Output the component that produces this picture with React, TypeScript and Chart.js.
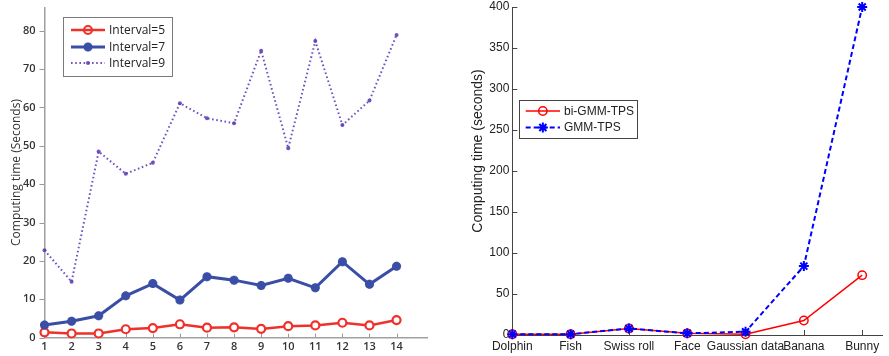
import React, { useEffect, useRef } from 'react';
import { Chart, registerables } from 'chart.js';

Chart.register(...registerables);

// ---------- Left chart data ----------
const intervals = [1, 2, 3, 4, 5, 6, 7, 8, 9, 10, 11, 12, 13, 14];
const interval5 = [1.4, 1.1, 1.1, 2.2, 2.5, 3.5, 2.6, 2.7, 2.3, 3.0, 3.2, 3.9, 3.2, 4.6];
const interval7 = [3.3, 4.3, 5.7, 10.9, 14.1, 9.8, 15.9, 15.0, 13.6, 15.5, 13.0, 19.8, 13.9, 18.6];
const interval9 = [22.8, 14.6, 48.5, 42.7, 45.6, 61.1, 57.2, 55.9, 74.8, 49.4, 77.3, 55.4, 61.8, 78.9];
const leftYTicks = [0, 10, 20, 30, 40, 50, 60, 70, 80];

// ---------- Right chart data ----------
const shapes = ['Dolphin', 'Fish', 'Swiss roll', 'Face', 'Gaussian data', 'Banana', 'Bunny'];
const biGmmTps = [1, 1, 8, 2, 1, 17.7, 73];
const gmmTps = [1, 1, 8, 2, 4, 84, 400];
const rightYTicks = [0, 50, 100, 150, 200, 250, 300, 350, 400];

function drawMarker(ctx: CanvasRenderingContext2D, style: string, x: number, y: number, r: number, color: string, lw: number) {
  ctx.save();
  ctx.strokeStyle = color;
  ctx.fillStyle = color;
  ctx.lineWidth = lw;
  ctx.setLineDash([]);
  ctx.beginPath();
  if (style === 'circle') {
    ctx.arc(x, y, r, 0, Math.PI * 2);
    ctx.fillStyle = 'rgba(255,255,255,0)';
    ctx.stroke();
  } else if (style === 'dot') {
    ctx.arc(x, y, r, 0, Math.PI * 2);
    ctx.fill();
  } else if (style === 'star') {
    for (let i = 0; i < 4; i++) {
      const a = (i * Math.PI) / 4;
      ctx.moveTo(x - Math.cos(a) * r, y - Math.sin(a) * r);
      ctx.lineTo(x + Math.cos(a) * r, y + Math.sin(a) * r);
    }
    ctx.stroke();
  }
  ctx.restore();
}

const tickPlugin = {
  id: 'tickMarks',
  beforeDatasetsDraw(chart: any, _args: any, opts: any) {
    const ctx = chart.ctx;
    const xs = chart.scales.x;
    const ys = chart.scales.y;
    ctx.save();
    ctx.strokeStyle = opts.color;
    ctx.lineWidth = opts.width;
    xs.ticks.forEach((t: any) => {
      const px = Math.round(xs.getPixelForValue(t.value)) + 0.5;
      ctx.beginPath();
      ctx.moveTo(px, xs.top);
      ctx.lineTo(px, xs.top + opts.xLen);
      ctx.stroke();
    });
    ys.ticks.forEach((t: any) => {
      const py = Math.round(ys.getPixelForValue(t.value)) + 0.5;
      ctx.beginPath();
      ctx.moveTo(ys.right, py);
      ctx.lineTo(ys.right + opts.yLen, py);
      ctx.stroke();
    });
    ctx.restore();
  },
};

const legendPlugin = {
  id: 'boxLegend',
  afterDraw(chart: any, _args: any, opts: any) {
    const ctx = chart.ctx;
    const b = opts.box;
    ctx.save();
    ctx.fillStyle = '#ffffff';
    ctx.fillRect(b.x, b.y, b.w, b.h);
    ctx.strokeStyle = opts.borderColor;
    ctx.lineWidth = 1;
    ctx.strokeRect(b.x + 0.5, b.y + 0.5, b.w, b.h);
    opts.items.forEach((it: any, i: number) => {
      const y = opts.rows[i];
      ctx.save();
      ctx.strokeStyle = it.color;
      ctx.lineWidth = it.lineWidth;
      ctx.setLineDash(it.dash || []);
      ctx.beginPath();
      ctx.moveTo(opts.lineX0, y);
      ctx.lineTo(opts.lineX1, y);
      ctx.stroke();
      ctx.restore();
      drawMarker(ctx, it.marker, (opts.lineX0 + opts.lineX1) / 2, y, it.radius, it.color, it.markerWidth);
      ctx.fillStyle = opts.textColor;
      ctx.font = opts.font;
      ctx.textBaseline = 'middle';
      ctx.textAlign = 'left';
      ctx.fillText(it.label, opts.textX, y + 0.5);
    });
    ctx.restore();
  },
};

const titlePlugin = {
  id: 'yTitle',
  afterDraw(chart: any, _args: any, opts: any) {
    const ctx = chart.ctx;
    ctx.save();
    ctx.translate(opts.x, opts.y);
    ctx.rotate(-Math.PI / 2);
    ctx.fillStyle = opts.color;
    ctx.font = opts.font;
    ctx.textAlign = 'center';
    ctx.textBaseline = 'middle';
    ctx.fillText(opts.text, 0, 0);
    ctx.restore();
  },
};

function zeroPad(scale: any) {
  scale.paddingTop = 0;
  scale.paddingBottom = 0;
  scale.paddingLeft = 0;
  scale.paddingRight = 0;
}

function LeftChart() {
  const ref = useRef<HTMLCanvasElement>(null);
  useEffect(() => {
    const tickFont = { family: '"Open Sans"', size: 11, weight: 600 as any };
    const chart = new Chart(ref.current as HTMLCanvasElement, {
      type: 'line',
      data: {
        datasets: [
          {
            label: 'Interval=9',
            data: intervals.map((x, i) => ({ x, y: interval9[i] })),
            borderColor: 'rgba(98,64,184,0.9)',
            backgroundColor: 'rgba(98,64,184,0.9)',
            borderWidth: 2,
            borderDash: [1.6, 2.6],
            pointStyle: 'circle',
            pointRadius: 2,
            pointBorderWidth: 0,
            tension: 0,
            clip: false as any,
          },
          {
            label: 'Interval=7',
            data: intervals.map((x, i) => ({ x, y: interval7[i] })),
            borderColor: '#3b4ea6',
            backgroundColor: '#3b4ea6',
            borderWidth: 3,
            pointStyle: 'star',
            pointRadius: 4.5,
            pointBorderWidth: 3,
            tension: 0,
            clip: false as any,
          },
          {
            label: 'Interval=5',
            data: intervals.map((x, i) => ({ x, y: interval5[i] })),
            borderColor: '#f0302a',
            backgroundColor: '#ffffff',
            borderWidth: 2.5,
            pointStyle: 'circle',
            pointRadius: 4,
            pointBorderWidth: 2.2,
            tension: 0,
            clip: false as any,
          },
        ],
      },
      options: {
        animation: false,
        responsive: false,
        maintainAspectRatio: false,
        layout: { padding: { left: 0, right: 12.3, top: 7.7, bottom: 0 } },
        plugins: {
          legend: { display: false },
          tooltip: { enabled: false },
          tickMarks: { color: '#999999', width: 1, xLen: -4, yLen: -5 },
          boxLegend: {
            box: { x: 63, y: 17, w: 109, h: 59 },
            borderColor: '#7a7a7a',
            rows: [30, 47, 63],
            lineX0: 71,
            lineX1: 105,
            textX: 109,
            font: '12px "Open Sans"',
            textColor: '#222222',
            items: [
              { label: 'Interval=5', color: '#f0302a', lineWidth: 2.5, marker: 'circle', radius: 4, markerWidth: 2.2 },
              { label: 'Interval=7', color: '#3b4ea6', lineWidth: 3, marker: 'star', radius: 4.5, markerWidth: 3 },
              { label: 'Interval=9', color: 'rgba(98,64,184,0.9)', lineWidth: 2, dash: [1.6, 2.6], marker: 'dot', radius: 2, markerWidth: 1 },
            ],
          },
          yTitle: { text: 'Computing time (Seconds)', x: 17, y: 172.5, font: '12px "Open Sans"', color: '#333333' },
        } as any,
        scales: {
          x: {
            type: 'linear',
            min: 1,
            max: 15.15,
            afterBuildTicks: (s: any) => { s.ticks = intervals.map((v) => ({ value: v })); },
            afterFit: (s: any) => { s.height = 18.3; zeroPad(s); },
            grid: { display: false, drawTicks: false },
            border: { display: true, color: '#a0a0a0', width: 1.5 },
            ticks: { font: tickFont, color: '#333333', padding: 3, autoSkip: false, maxRotation: 0 },
          },
          y: {
            type: 'linear',
            min: 0,
            max: 86,
            afterBuildTicks: (s: any) => { s.ticks = leftYTicks.map((v) => ({ value: v })); },
            afterFit: (s: any) => { s.width = 44.5; zeroPad(s); },
            grid: { display: false, drawTicks: false },
            border: { display: true, color: '#a0a0a0', width: 1.5 },
            ticks: { font: tickFont, color: '#333333', padding: 9 },
          },
        },
      },
      plugins: [tickPlugin, legendPlugin, titlePlugin],
    });
    return () => chart.destroy();
  }, []);
  return (
    <canvas
      ref={ref}
      width={440}
      height={356}
      style={{ position: 'absolute', left: 0, top: 0, width: 440, height: 356 }}
    />
  );
}

function RightChart() {
  const ref = useRef<HTMLCanvasElement>(null);
  useEffect(() => {
    const tickFont = { family: '"Liberation Sans", Arial', size: 12 };
    const chart = new Chart(ref.current as HTMLCanvasElement, {
      type: 'line',
      data: {
        datasets: [
          {
            label: 'bi-GMM-TPS',
            data: shapes.map((_, i) => ({ x: i, y: biGmmTps[i] })),
            borderColor: '#ff0000',
            backgroundColor: 'rgba(255,255,255,0)',
            borderWidth: 1.5,
            pointStyle: 'circle',
            pointRadius: 4.2,
            pointBorderWidth: 1.5,
            tension: 0,
            order: 1,
            clip: false as any,
          },
          {
            label: 'GMM-TPS',
            data: shapes.map((_, i) => ({ x: i, y: gmmTps[i] })),
            borderColor: '#0000ff',
            backgroundColor: '#0000ff',
            borderWidth: 2,
            borderDash: [5, 3],
            pointStyle: 'star',
            pointRadius: 5,
            pointBorderWidth: 2,
            tension: 0,
            order: 0,
            clip: false as any,
          },
        ],
      },
      options: {
        animation: false,
        responsive: false,
        maintainAspectRatio: false,
        layout: { padding: { left: 0, right: 0, top: 4, bottom: 0 } },
        plugins: {
          legend: { display: false },
          tooltip: { enabled: false },
          tickMarks: { color: '#444444', width: 1, xLen: -5, yLen: 5 },
          boxLegend: {
            box: { x: 79, y: 100, w: 118, h: 38 },
            borderColor: '#444444',
            rows: [111, 127.5],
            lineX0: 85.7,
            lineX1: 120,
            textX: 124,
            font: '12px "Liberation Sans", Arial',
            textColor: '#222222',
            items: [
              { label: 'bi-GMM-TPS', color: '#ff0000', lineWidth: 1.5, marker: 'circle', radius: 4.2, markerWidth: 1.5 },
              { label: 'GMM-TPS', color: '#0000ff', lineWidth: 2, dash: [5, 3], marker: 'star', radius: 5, markerWidth: 2 },
            ],
          },
          yTitle: { text: 'Computing time (seconds)', x: 38, y: 151, font: '14px "Liberation Sans", Arial', color: '#222222' },
        } as any,
        scales: {
          x: {
            type: 'linear',
            min: 0,
            max: 6.34,
            afterBuildTicks: (s: any) => { s.ticks = shapes.map((_, i) => ({ value: i })); },
            afterFit: (s: any) => { s.height = 21; zeroPad(s); },
            grid: { display: false, drawTicks: false },
            border: { display: true, color: '#444444', width: 1 },
            ticks: {
              font: tickFont,
              color: '#222222',
              padding: 4,
              autoSkip: false,
              maxRotation: 0,
              callback: (v: any) => shapes[Math.round(Number(v))] ?? '',
            },
          },
          y: {
            type: 'linear',
            min: 0,
            max: 400,
            afterBuildTicks: (s: any) => { s.ticks = rightYTicks.map((v) => ({ value: v })); },
            afterFit: (s: any) => { s.width = 72.3; zeroPad(s); },
            grid: { display: false, drawTicks: false },
            border: { display: true, color: '#444444', width: 1 },
            ticks: { font: tickFont, color: '#222222', padding: 3 },
          },
        },
      },
      plugins: [tickPlugin, legendPlugin, titlePlugin],
    });
    return () => chart.destroy();
  }, []);
  return (
    <canvas
      ref={ref}
      width={449}
      height={356}
      style={{ position: 'absolute', left: 440, top: 0, width: 449, height: 356 }}
    />
  );
}

export default function App() {
  return (
    <div style={{ position: 'absolute', left: 0, top: 0, width: 889, height: 356, background: '#ffffff', overflow: 'hidden' }}>
      <LeftChart />
      <RightChart />
    </div>
  );
}
